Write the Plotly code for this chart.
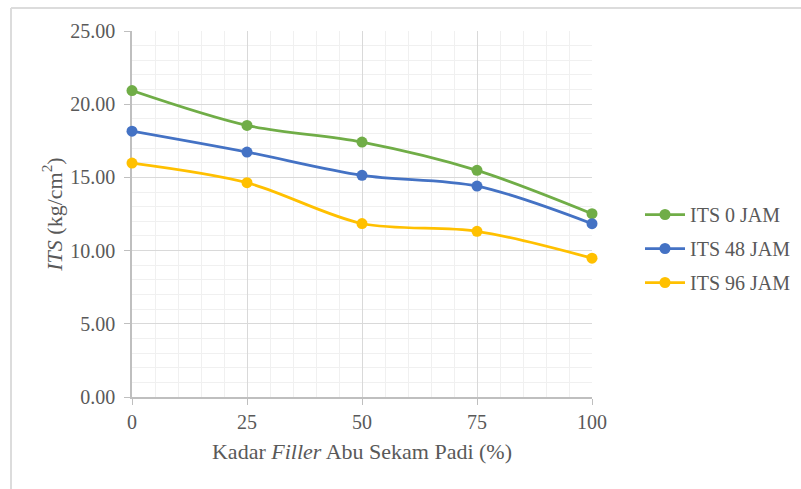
import plotly.graph_objects as go

# Filler content (%) on the x axis
kadar_filler = [0, 25, 50, 75, 100]

# Indirect tensile strength (kg/cm2) for each soaking time
its_0_jam = [20.93, 18.55, 17.41, 15.48, 12.52]
its_48_jam = [18.16, 16.73, 15.14, 14.41, 11.84]
its_96_jam = [15.98, 14.64, 11.85, 11.32, 9.48]

series_names = ["ITS 0 JAM", "ITS 48 JAM", "ITS 96 JAM"]
series_values = [its_0_jam, its_48_jam, its_96_jam]
series_colors = ["#70AD47", "#4472C4", "#FFC000"]

y_tick_values = [0, 5, 10, 15, 20, 25]
y_tick_labels = ["0.00", "5.00", "10.00", "15.00", "20.00", "25.00"]
x_tick_values = [0, 25, 50, 75, 100]

FONT = "Times New Roman, Liberation Serif, serif"
TEXT = "#595959"

fig = go.Figure()
for i, (name, vals, col) in enumerate(zip(series_names, series_values, series_colors)):
    fig.add_trace(go.Scatter(
        x=kadar_filler, y=vals, name=name, mode="lines+markers",
        line=dict(color=col, width=2.75, shape="spline", smoothing=0.9),
        marker=dict(color=col, size=11),
        legendgroup=f"g{i}",
        cliponaxis=False,
    ))

# plot area geometry in pixels
L, R, T, B = 132, 592, 31, 397
W, H = 801, 489


def px_x(px):
    return (px - L) / (R - L)


def px_y(py):
    return (B - py) / (B - T)


border = dict(color="#DCDCDC", width=2)
shapes = [
    dict(type="line", xref="paper", yref="paper", x0=px_x(11), x1=px_x(801),
         y0=px_y(8), y1=px_y(8), line=border),
    dict(type="line", xref="paper", yref="paper", x0=px_x(11), x1=px_x(11),
         y0=px_y(8), y1=px_y(489), line=border),
]

fig.update_layout(
    width=W, height=H,
    margin=dict(l=L, r=W - R, t=T, b=H - B, pad=0, autoexpand=False),
    paper_bgcolor="white", plot_bgcolor="white",
    font=dict(family=FONT, size=20, color=TEXT),
    shapes=shapes,
    showlegend=True,
    legend=dict(
        x=px_x(640), y=px_y(195), xanchor="left", yanchor="top",
        font=dict(family=FONT, size=20, color=TEXT),
        tracegroupgap=5, itemwidth=40,
        bgcolor="rgba(0,0,0,0)",
    ),
    xaxis=dict(
        range=[0, 100], tickmode="array", tickvals=x_tick_values,
        ticks="outside", ticklen=6, tickcolor="#BFBFBF",
        showline=True, linecolor="#BFBFBF", linewidth=1.5,
        showgrid=True, gridcolor="#D9D9D9", gridwidth=1,
        minor=dict(dtick=5, showgrid=True, gridcolor="#F0F0F0", gridwidth=1),
        tickfont=dict(family=FONT, size=20, color=TEXT),
        ticklabelstandoff=0,
        zeroline=False, layer="below traces",
        title=dict(text="Kadar <i>Filler</i> Abu Sekam Padi (%)",
                   font=dict(family=FONT, size=22, color=TEXT), standoff=12),
    ),
    yaxis=dict(
        range=[0, 25], tickmode="array", tickvals=y_tick_values, ticktext=y_tick_labels,
        ticks="outside", ticklen=6, tickcolor="#BFBFBF",
        showline=True, linecolor="#BFBFBF", linewidth=1.5,
        showgrid=True, gridcolor="#D9D9D9", gridwidth=1,
        minor=dict(dtick=1, showgrid=True, gridcolor="#F0F0F0", gridwidth=1),
        tickfont=dict(family=FONT, size=20, color=TEXT),
        ticklabelstandoff=5,
        zeroline=False, layer="below traces",
        title=dict(text="<i>ITS</i> (kg/cm<sup>2</sup>)",
                   font=dict(family=FONT, size=22, color=TEXT), standoff=2),
    ),
)

fig.write_html("out.html")
